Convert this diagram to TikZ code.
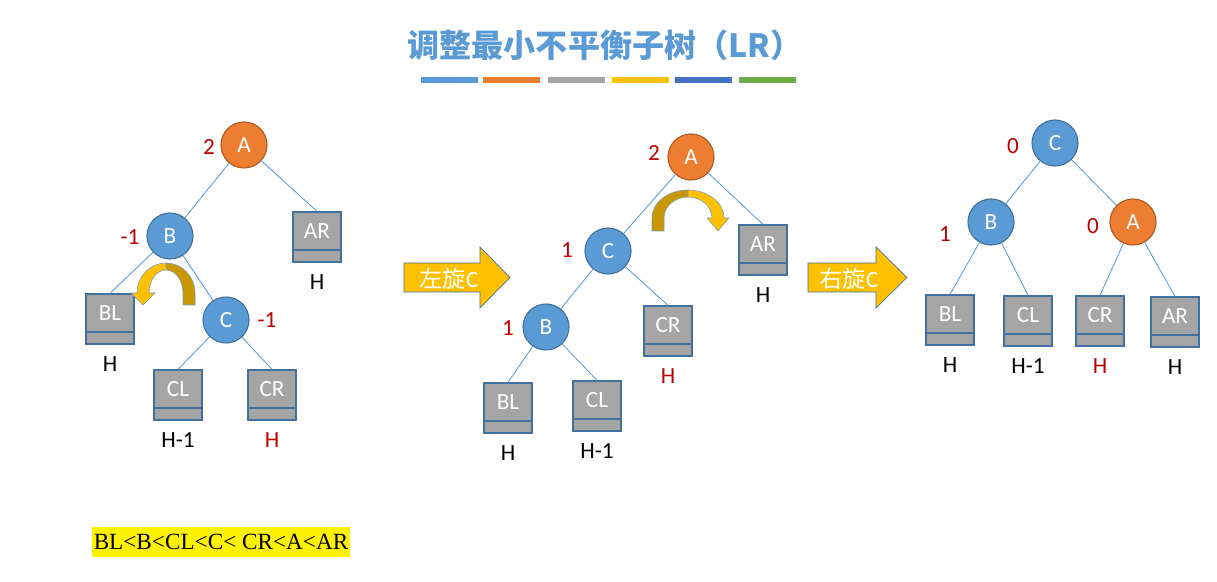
\documentclass[tikz,border=0pt]{standalone}
\usepackage{fontspec}
\setmainfont{Carlito}
\newfontfamily\cjk{Noto Sans CJK SC}
\newfontfamily\timesf{Liberation Serif}
\usepackage{tikz}
\usetikzlibrary{positioning}

\definecolor{nodeblue}{HTML}{5B9BD5}
\definecolor{nodeorange}{HTML}{ED7D31}
\definecolor{nodeline}{HTML}{41719C}
\definecolor{orangeline}{HTML}{AE5A21}
\definecolor{leafgray}{HTML}{A5A5A5}
\definecolor{bfred}{HTML}{C00000}
\definecolor{turnlight}{HTML}{FFC000}
\definecolor{turndark}{HTML}{C99700}
\definecolor{barA}{HTML}{5B9BD5}
\definecolor{barB}{HTML}{ED7D31}
\definecolor{barC}{HTML}{A5A5A5}
\definecolor{barD}{HTML}{FFC000}
\definecolor{barE}{HTML}{4472C4}
\definecolor{barF}{HTML}{70AD47}

\begin{document}
\begin{tikzpicture}[x=0.025cm,y=0.025cm,node distance=0.3cm,
  txt/.style={font=\fontsize{16.5}{19}\selectfont},
  bnode/.style={circle,txt,draw=nodeline,line width=0.8pt,fill=nodeblue,minimum size=1.15cm,inner sep=0pt,text=white},
  onode/.style={bnode,draw=orangeline,fill=nodeorange},
  leaf/.style={rectangle,txt,draw=nodeline,line width=0.9pt,fill=leafgray,minimum width=1.2cm,minimum height=1.25cm,
    inner sep=0pt,text height=0.37cm,text depth=0.31cm,text=white,
    path picture={\draw[nodeline,line width=0.9pt] ([yshift=0.3cm]path picture bounding box.south west) -- ([yshift=0.3cm]path picture bounding box.south east);}},
  bf/.style={txt,text=bfred,inner sep=0pt},
  ht/.style={txt,inner sep=0pt},
  tedge/.style={draw=nodeblue,line width=0.6pt},
  turn/.style={draw=nodeline!70,line width=0.4pt},
  rot/.style={draw=nodeline,line width=0.5pt,fill=turnlight}]

  \useasboundingbox[fill=white] (0,0) rectangle (1217,-582);

  \node[text=nodeblue,font=\fontsize{22.8}{26}\selectfont\cjk\bfseries] (title) at (605,-45) {调整最小不平衡子树（LR）};
  \foreach \xs/\cl in {421/barA,483/barB,548/barC,612/barD,675/barE,739/barF}
    \fill[\cl] (\xs,-77) rectangle ++(57,-6);

  % before
  \node[onode] (A1) at (244,-145) {A};
  \node[bnode] (B1) at (170,-236) {B};
  \node[bnode] (C1) at (226,-320) {C};
  \node[leaf]  (AR1) at (317,-237) {AR};
  \node[leaf]  (BL1) at (110,-319) {BL};
  \node[leaf]  (CL1) at (178,-395) {CL};
  \node[leaf]  (CR1) at (272,-395) {CR};
  \node[bf] (fA1) at (209,-147) {2};
  \node[bf] (fB1) at (130,-237) {-1};
  \node[bf] (fC1) at (267,-320) {-1};
  \node[ht] (hAR1) [below=of AR1] {H};
  \node[ht] (hBL1) [below=of BL1] {H};
  \node[ht] (hCL1) [below=of CL1] {H-1};
  \node[ht,text=bfred] (hCR1) [below=of CR1] {H};
  \path[tedge] (A1) edge (B1) edge (AR1.north)
    (B1) edge (BL1.north) edge (C1)
    (C1) edge (CL1.north) edge (CR1.north);
  \fill[turndark,turn] (195,-305) -- (195,-293) arc[start angle=0,end angle=90,x radius=29,y radius=30]
    -- (166,-270) arc[start angle=90,end angle=0,x radius=17,y radius=23] -- (183,-305) -- cycle;
  \fill[turnlight,turn] (166,-263) arc[start angle=90,end angle=180,x radius=29,y radius=30]
    -- (131,-293) -- (143,-305) -- (155,-293) -- (149,-293)
    arc[start angle=180,end angle=90,x radius=17,y radius=23] -- cycle;

  \path[rot] (404,-263) -- (480,-263) -- (480,-247) -- (510,-277.5) -- (480,-308) -- (480,-292) -- (404,-292) -- cycle;
  \node[txt,text=white] (rotL) at (449,-279) {{\cjk 左旋}C};

  % after left turn
  \node[onode] (A2) at (691,-157) {A};
  \node[bnode] (C2) at (608,-251) {C};
  \node[bnode] (B2) at (546,-327) {B};
  \node[leaf]  (AR2) at (763,-250) {AR};
  \node[leaf]  (CR2) at (668,-331) {CR};
  \node[leaf]  (BL2) at (508,-408) {BL};
  \node[leaf]  (CL2) at (597,-406) {CL};
  \node[bf] (fA2) at (654,-153) {2};
  \node[bf] (fC2) at (567,-250) {1};
  \node[bf] (fB2) at (508,-328) {1};
  \node[ht] (hAR2) [below=of AR2] {H};
  \node[ht,text=bfred] (hCR2) [below=of CR2] {H};
  \node[ht] (hBL2) [below=of BL2] {H};
  \node[ht] (hCL2) [below=of CL2] {H-1};
  \path[tedge] (A2) edge (C2) edge (AR2.north)
    (C2) edge (B2) edge (CR2.north)
    (B2) edge (BL2.north) edge (CL2.north);
  \fill[turndark,turn] (652,-231) -- (652,-218) arc[start angle=180,end angle=90,x radius=36,y radius=28]
    -- (688,-197) arc[start angle=90,end angle=180,x radius=24,y radius=21] -- (664,-231) -- cycle;
  \fill[turnlight,turn] (688,-190) arc[start angle=90,end angle=0,x radius=36,y radius=28]
    -- (729,-218) -- (718,-231) -- (707,-218) -- (712,-218)
    arc[start angle=0,end angle=90,x radius=24,y radius=21] -- cycle;

  \path[rot] (808,-263) -- (876,-263) -- (876,-247) -- (907,-277.5) -- (876,-308) -- (876,-292) -- (808,-292) -- cycle;
  \node[txt,text=white] (rotR) at (849,-279) {{\cjk 右旋}C};

  % after right turn
  \node[bnode] (C3) at (1055,-143) {C};
  \node[bnode] (B3) at (991,-222) {B};
  \node[onode] (A3) at (1133,-222) {A};
  \node[leaf]  (BL3) at (950,-320) {BL};
  \node[leaf]  (CL3) at (1028,-321) {CL};
  \node[leaf]  (CR3) at (1100,-321) {CR};
  \node[leaf]  (AR3) at (1175,-322) {AR};
  \node[bf] (fC3) at (1013,-146) {0};
  \node[bf] (fB3) at (945,-234) {1};
  \node[bf] (fA3) at (1093,-226) {0};
  \node[ht] (hBL3) [below=of BL3] {H};
  \node[ht] (hCL3) [below=of CL3] {H-1};
  \node[ht,text=bfred] (hCR3) [below=of CR3] {H};
  \node[ht] (hAR3) [below=of AR3] {H};
  \path[tedge] (C3) edge (B3) edge (A3)
    (B3) edge (BL3.north) edge (CL3.north)
    (A3) edge (CR3.north) edge (AR3.north);

  \node[fill=yellow,inner xsep=0.04cm,minimum height=0.75cm,font=\fontsize{16.5}{19}\selectfont\timesf] (order) at (221,-542) {BL<B<CL<C< CR<A<AR};

\end{tikzpicture}
\end{document}
